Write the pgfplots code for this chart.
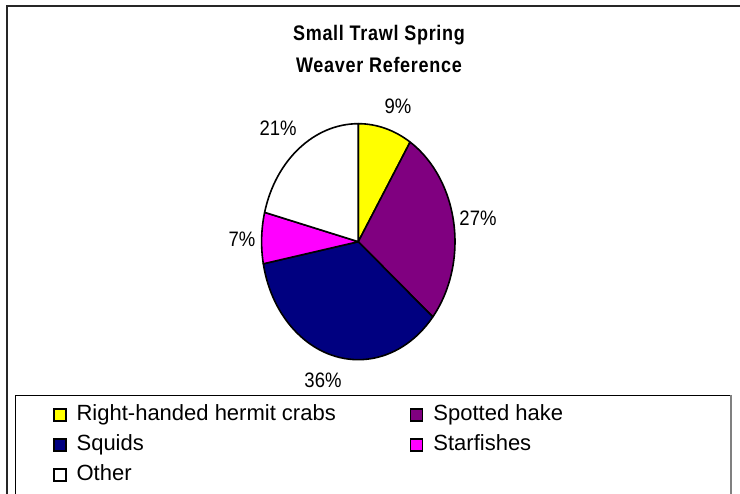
\documentclass[border=0pt]{standalone}
\usepackage{pgfplots}
\pgfplotsset{compat=1.18}
\usepackage{pgfplotstable}
\usepackage{graphicx}
\usepackage{fontspec}
\setmainfont{Liberation Sans}
\newfontfamily\spacedfont{Liberation Sans}[LetterSpace=4]

\definecolor{pieyellow}{HTML}{FFFF00}
\definecolor{piepurple}{HTML}{800080}
\definecolor{pienavy}{HTML}{000080}
\definecolor{piemagenta}{HTML}{FF00FF}
\definecolor{piewhite}{HTML}{FFFFFF}

% share in percent, label centre in units of the two radii
\pgfplotstableread{
share lx     ly     col
9     0.411  1.150  pieyellow
27    1.238  0.201  piepurple
36   -0.365 -1.172  pienavy
7    -1.203  0.023  piemagenta
21   -0.830  0.964  piewhite
}\piedata

\newcommand\pct[1]{\scalebox{1}[1.13]{\fontsize{18.5}{20}\selectfont #1}}
\newcommand\ttl[1]{\scalebox{1}[1.17]{\spacedfont\bfseries\fontsize{18}{20}\selectfont #1}}

\begin{document}
\begin{tikzpicture}
\useasboundingbox (0pt,0pt) rectangle (740pt,494pt);
% chart frame and legend box (both run past the picture edge)
\draw[black!85, line width=1.5pt] (7pt,-5pt) -- (7pt,488pt) -- (745pt,488pt);
\draw[black, line width=0.9pt] (15pt,-5pt) -- (15pt,99pt) -- (731pt,99pt);
\draw[gray, line width=1.5pt] (731pt,99pt) -- (731pt,-5pt);

\node at (379pt,459pt) {\ttl{Small Trawl Spring}};
\node at (379pt,429.5pt) {\ttl{Weaver Reference}};

\pgfplotstablegetrowsof{\piedata}
\pgfmathtruncatemacro\nrows{\pgfplotsretval-1}
\def\cum{0}

\begin{axis}[
  at={(358.3pt,252.3pt)}, anchor=origin,
  x=96.7pt, y=118pt,
  xmin=-1, xmax=1, ymin=-1, ymax=1, enlargelimits=false,
  hide axis, clip=false,
  legend columns=2,
  legend image code/.code={\filldraw[#1, draw=black, line width=1.6pt] (0pt,-6pt) rectangle (12pt,6pt);},
  % legend top-left at (53pt, 89.6pt) of the picture
  legend style={at={(-1.0786,-0.1894)}, anchor=north west, draw=none, fill=none,
    inner sep=0pt, outer sep=0pt,
    font=\fontsize{22}{26}\selectfont, cells={anchor=west},
    nodes={inner sep=0pt, text height=16pt, text depth=5pt},
    row sep=9pt,
    /tikz/every odd column/.append style={column sep=10pt},
    /tikz/every even column/.append style={column sep=74pt}},
]
\pgfplotsforeachungrouped \i in {0,...,\nrows}{%
  \pgfplotstablegetelem{\i}{share}\of\piedata \let\sh\pgfplotsretval
  \pgfplotstablegetelem{\i}{lx}\of\piedata \let\lx\pgfplotsretval
  \pgfplotstablegetelem{\i}{ly}\of\piedata \let\ly\pgfplotsretval
  \pgfplotstablegetelem{\i}{col}\of\piedata \let\col\pgfplotsretval
  \pgfmathsetmacro\aone{90-3.6*\cum}
  \pgfmathsetmacro\atwo{90-3.6*(\cum+\sh)}
  \pgfmathsetmacro\cx{cos(\aone)}
  \pgfmathsetmacro\cy{sin(\aone)}
  \edef\next{%
    \noexpand\filldraw[fill=\col, draw=black, line width=1.6pt, line join=round]
      (axis cs:0,0) -- (axis cs:\cx,\cy)
      arc[start angle=\aone, end angle=\atwo, x radius=96.7pt, y radius=118pt] -- cycle;
    \noexpand\node at (axis cs:\lx,\ly) {\noexpand\pct{\sh\noexpand\%}};}%
  \next
  \pgfmathsetmacro\cum{\cum+\sh}%
}

\addlegendimage{fill=pieyellow}
\addlegendentry{Right-handed hermit crabs}
\addlegendimage{fill=piepurple}
\addlegendentry{Spotted hake}
\addlegendimage{fill=pienavy}
\addlegendentry{Squids}
\addlegendimage{fill=piemagenta}
\addlegendentry{Starfishes}
\addlegendimage{fill=piewhite}
\addlegendentry{Other}
\end{axis}
\end{tikzpicture}
\end{document}
